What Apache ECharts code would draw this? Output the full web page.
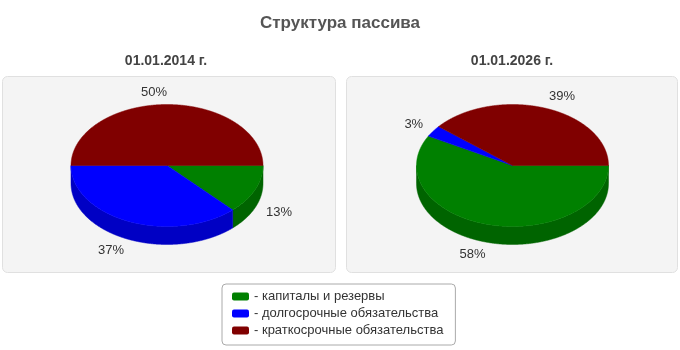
<!DOCTYPE html>
<html>
<head>
<meta charset="utf-8">
<script src="https://cdn.jsdelivr.net/npm/echarts@6/dist/echarts.min.js"></script>
<style>
html,body{margin:0;padding:0;background:#fff;}
#chart{width:680px;height:350px;}
</style>
</head>
<body>
<div id="chart"></div>
<script>
// ---- data ----
const chartTitle = 'Структура пассива';
const dates = ['01.01.2014 г.', '01.01.2026 г.'];
const categories = ['капиталы и резервы', 'долгосрочные обязательства', 'краткосрочные обязательства'];
const values2014 = [13, 37, 50];
const values2026 = [58, 3, 39];
const topColors = ['#008000', '#0000ff', '#800000'];
const wallColors = ['#006400', '#0000c4', '#5a0000'];

// ---- drawing ----
const FONT = '"Liberation Sans", Arial, sans-serif';
const RX = 96, RY = 61, DEPTH = 18, CY = 165.5;

function makeRender(values, cx) {
  const total = values.reduce((a, b) => a + b, 0);
  return function (params, api) {
    const i = params.dataIndex;
    let before = 0;
    for (let k = 0; k < i; k++) before += values[k];
    const v = api.value(0);
    const a1 = before / total * Math.PI * 2;
    const a2 = (before + v) / total * Math.PI * 2;
    const step = 0.005;
    const pt = (t, dy) => [cx + RX * Math.cos(t), CY + RY * Math.sin(t) + dy];
    const children = [];
    // wall (front half only)
    const w1 = Math.max(a1, 0), w2 = Math.min(a2, Math.PI);
    if (w1 < w2) {
      const pts = [];
      for (let t = w1; t < w2; t += step) pts.push(pt(t, 0));
      pts.push(pt(w2, 0));
      for (let t = w2; t > w1; t -= step) pts.push(pt(t, DEPTH));
      pts.push(pt(w1, DEPTH));
      children.push({ type: 'polygon', shape: { points: pts }, style: { fill: wallColors[i], stroke: wallColors[i], lineWidth: 0.5 } });
    }
    // top
    const tp = [[cx, CY]];
    for (let t = a1; t < a2; t += step) tp.push(pt(t, 0));
    tp.push(pt(a2, 0));
    children.push({ type: 'polygon', shape: { points: tp }, style: { fill: topColors[i], stroke: topColors[i], lineWidth: 0.5 } });
    // label
    const mid = (a1 + a2) / 2;
    const c = Math.cos(mid), s = Math.sin(mid);
    const K = 12;
    const lx = cx + (RX + K) * c;
    const ly = CY + (RY + K) * s + (s > 0 ? DEPTH : 0);
    children.push({
      type: 'text',
      style: {
        x: lx, y: ly,
        text: Math.round(v / total * 100) + '%',
        fill: '#333', font: '13px ' + FONT,
        align: c > 1e-6 ? 'left' : 'right', verticalAlign: 'middle'
      }
    });
    return { type: 'group', children: children };
  };
}

const chart = echarts.init(document.getElementById('chart'), null, { renderer: 'canvas' });

const series = [
  { type: 'custom', name: 'pie2014', coordinateSystem: 'none', renderItem: makeRender(values2014, 167), data: values2014.map(v => [v]), silent: true, z: 5 },
  { type: 'custom', name: 'pie2026', coordinateSystem: 'none', renderItem: makeRender(values2026, 512.5), data: values2026.map(v => [v]), silent: true, z: 5 }
];
categories.forEach((name, i) => {
  series.push({ type: 'custom', name: name, coordinateSystem: 'none', data: [], renderItem: () => null, itemStyle: { color: topColors[i] } });
});

chart.setOption({
  animation: false,
  title: [
    { text: chartTitle, left: 340, top: 15, textAlign: 'center', padding: 0,
      textStyle: { fontSize: 17, fontWeight: 'bold', color: '#555', fontFamily: FONT } },
    { text: dates[0], left: 166, top: 54, textAlign: 'center', padding: 0,
      textStyle: { fontSize: 14, fontWeight: 'bold', color: '#444', fontFamily: FONT } },
    { text: dates[1], left: 512, top: 54, textAlign: 'center', padding: 0,
      textStyle: { fontSize: 14, fontWeight: 'bold', color: '#444', fontFamily: FONT } }
  ],
  legend: {
    data: categories,
    orient: 'vertical',
    left: 222, top: 284,
    padding: [6, 12, 8, 10],
    itemGap: 4,
    itemWidth: 17, itemHeight: 8,
    icon: 'roundRect',
    backgroundColor: '#fff',
    borderColor: '#aaa', borderWidth: 1, borderRadius: 4,
    selectedMode: false,
    formatter: n => '- ' + n,
    textStyle: { fontSize: 13, color: '#333', fontFamily: FONT }
  },
  graphic: [
    { type: 'rect', shape: { x: 2.5, y: 76.5, width: 333, height: 196, r: 5 }, style: { fill: '#f4f4f4', stroke: '#e0e0e0', lineWidth: 1 }, z: -10 },
    { type: 'rect', shape: { x: 346.5, y: 76.5, width: 331, height: 196, r: 5 }, style: { fill: '#f4f4f4', stroke: '#e0e0e0', lineWidth: 1 }, z: -10 }
  ],
  series: series
});
</script>
</body>
</html>
